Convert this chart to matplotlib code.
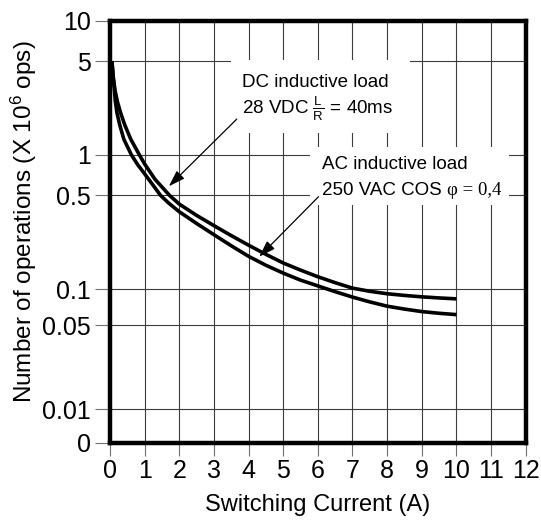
import numpy as np
import matplotlib
matplotlib.use("Agg")
import matplotlib.pyplot as plt
from matplotlib.patches import Rectangle

plt.rcParams['font.family'] = ['Liberation Sans', 'DejaVu Sans']
plt.rcParams['mathtext.fontset'] = 'custom'
plt.rcParams['mathtext.rm'] = 'Liberation Sans'
plt.rcParams['mathtext.sf'] = 'Liberation Sans'
plt.rcParams['mathtext.it'] = 'Liberation Sans:italic'

# ---------------- data ----------------
upper_x = [0.055, 0.096, 0.15, 0.212, 0.30, 0.424, 0.60, 0.85, 1.0, 1.3, 1.72, 2.0, 2.5,
           3.0, 3.5, 4.0, 4.5, 5.0, 5.5, 6.0, 6.5, 7.0, 7.5, 8.0, 8.5, 9.0, 9.5, 10.0]
upper_y = [5.0, 3.74, 2.99, 2.51, 2.09, 1.68, 1.31, 1.0, 0.857, 0.659, 0.5, 0.431, 0.355,
           0.298, 0.251, 0.213, 0.182, 0.157, 0.139, 0.124, 0.112, 0.102, 0.0962, 0.0918,
           0.0889, 0.0865, 0.0847, 0.0832]

lower_x = [0.055, 0.096, 0.154, 0.20, 0.28, 0.40, 0.62, 0.80, 1.0, 1.2, 1.46, 1.7, 2.0,
           2.5, 3.0, 3.5, 4.0, 4.5, 5.0, 5.5, 6.0, 6.5, 7.0, 7.5, 8.0, 8.5, 9.0, 9.5, 10.0]
lower_y = [5.0, 3.74, 2.51, 2.07, 1.68, 1.31, 1.0, 0.847, 0.724, 0.617, 0.5, 0.437, 0.378,
           0.309, 0.255, 0.211, 0.176, 0.151, 0.132, 0.117, 0.106, 0.0955, 0.0861, 0.0785,
           0.0723, 0.0684, 0.0652, 0.0631, 0.0615]

x_ticks = list(range(0, 13))
y_ticks = [0, 0.01, 0.05, 0.1, 0.5, 1, 5, 10]
y_tick_labels = ['0', '0.01', '0.05', '0.1', '0.5', '1', '5', '10']

dc_label_1 = "DC inductive load"
dc_label_2 = r"28 VDC $\frac{\mathrm{L}}{\mathrm{R}}$ = 40ms"
ac_label_1 = "AC inductive load"
ac_label_2a = "250 VAC COS "
ac_label_2b = "\u03c6 = 0,4"

# ---------------- custom (piecewise log) y scale ----------------
K = 0.8935        # 0.1 -> 0.01 span, in decades of the upper part
P1 = -1 - K       # position of 0.01
P0 = P1 - 0.2487  # position of 0


def fwd(y):
    y = np.asarray(y, dtype=float)
    ly = np.log10(np.clip(y, 1e-12, None))
    return np.where(y >= 0.1, ly,
                    np.where(y >= 0.01, -1 + (ly + 1) * K,
                             P0 + (y / 0.01) * (P1 - P0)))


def inv(p):
    p = np.asarray(p, dtype=float)
    return np.where(p >= -1, 10.0 ** np.minimum(p, 10),
                    np.where(p >= P1, 10.0 ** (-1 + (np.clip(p, P1, -1) + 1) / K),
                             0.01 * (p - P0) / (P1 - P0)))


fig = plt.figure(figsize=(5.41, 5.20), dpi=100)
ax = fig.add_axes([0.2033, 0.1487, 0.7684, 0.8115])
ax.set_yscale('function', functions=(fwd, inv))
ax.set_xlim(0, 12)
ax.set_ylim(0, 10)

ax.set_xticks(x_ticks)
ax.set_xticklabels([str(v) for v in x_ticks])
ax.set_yticks(y_ticks)
ax.set_yticklabels(y_tick_labels)
ax.yaxis.set_minor_locator(matplotlib.ticker.NullLocator())
ax.xaxis.set_minor_locator(matplotlib.ticker.NullLocator())

ax.grid(True, which='major', color='#3c3c3c', linewidth=0.8, zorder=0)
ax.set_axisbelow(True)

ax.tick_params(axis='y', direction='out', length=10.5, width=0.8, color='#707070',
               labelsize=18, pad=3.5)
ax.tick_params(axis='x', direction='out', length=9, width=0.8, color='#707070',
               labelsize=18, pad=3)

for s in ax.spines.values():
    s.set_linewidth(3.2)
    s.set_color('black')
    s.set_zorder(5)

# white label backgrounds
ax.add_patch(Rectangle((3.49, 1.458), 8.66 - 3.49, 5.1 - 1.458, facecolor='white',
                       edgecolor='none', zorder=1))
ax.add_patch(Rectangle((5.78, 0.4245), 11.52 - 5.78, 1.147 - 0.4245, facecolor='white',
                       edgecolor='none', zorder=1))

# curves
ax.plot(upper_x, upper_y, color='black', linewidth=2.6, solid_capstyle='butt',
        solid_joinstyle='round', zorder=3)
ax.plot(lower_x, lower_y, color='black', linewidth=2.6, solid_capstyle='butt',
        solid_joinstyle='round', zorder=3)

# texts
ax.text(3.82, 3.23, dc_label_1, fontsize=13.5, ha='left', va='baseline', zorder=4)
ax.text(3.82, 2.01, dc_label_2, fontsize=13.5, ha='left', va='baseline', zorder=4)
ax.text(6.11, 0.782, ac_label_1, fontsize=13.5, ha='left', va='baseline', zorder=4)
t_ac = ax.text(6.11, 0.504, ac_label_2a, fontsize=13.5, ha='left', va='baseline', zorder=4)
ax.annotate(ac_label_2b, xy=(1, 0), xycoords=t_ac, ha='left', va='bottom',
            fontsize=13.5, family='Liberation Serif', zorder=4)

# arrows
arrow_kw = dict(arrowstyle='-|>,head_length=1.0,head_width=0.33', color='black',
                linewidth=0.9, shrinkA=0, shrinkB=0)
ax.annotate('', xy=(1.70, 0.585), xytext=(3.66, 1.85), arrowprops=arrow_kw, zorder=4)
ax.annotate('', xy=(4.31, 0.175), xytext=(6.02, 0.489), arrowprops=arrow_kw, zorder=4)

ax.set_xlabel("Switching Current (A)", fontsize=17, va='center')
ax.xaxis.set_label_coords(0.5, -0.1476)
ax.set_ylabel("Number of operations (X 10$^{6}$ ops)", fontsize=17.5, va='center')
ax.yaxis.set_label_coords(-0.207, 0.523)

fig.savefig('out.png', dpi=100)
